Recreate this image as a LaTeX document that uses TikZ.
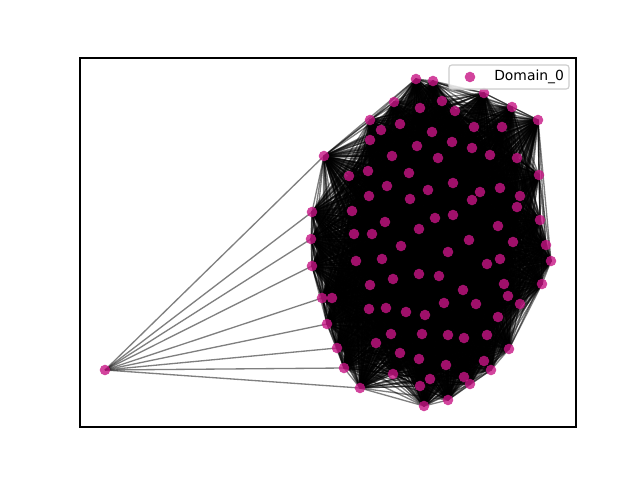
\documentclass[tikz,border=0pt]{standalone}
\usepackage{fontspec}
\setmainfont{DejaVu Sans}
\pgfdeclarelayer{edges}
\pgfsetlayers{edges,main}
\definecolor{dotc}{RGB}{199,21,133}
\begin{document}
\begin{tikzpicture}[x=0.72pt,y=-0.72pt,
  dot/.style={circle,fill=dotc,fill opacity=0.8,inner sep=0pt,minimum size=7.6pt,draw=none},
  edge/.style={draw=black,opacity=0.5,line width=0.95pt}]
\useasboundingbox (0,0) rectangle (640,480);
\foreach \i/\x/\y in {1/416/79,2/433/81,3/484/93,4/512/107,5/538/120,6/394/102,7/442/101,8/420/108,9/455/111,10/370/120,
11/381/130,12/400/124,13/432/132,14/474/127,15/502/127,16/370/140,17/452/142,18/417/146,19/472/148,20/324/156,
21/392/156,22/438/158,23/490/155,24/517/158,25/539/175,26/349/176,27/368/171,28/409/173,29/453/183,30/387/186,
31/428/190,32/480/192,33/500/188,34/520/196,35/369/196,36/410/199,37/472/200,38/517/207,39/312/212,40/352/211,
41/435/218,42/453/215,43/385/222,44/540/220,45/498/226,46/419/229,47/354/234,48/372/234,49/311/239,50/513/242,
51/469/240,52/546/245,53/401/246,54/448/252,55/356/261,56/382/259,57/312/266,58/500/259,59/487/264,60/551/261,
61/419/274,62/393/279,63/439/276,64/542/284,65/370/285,66/504/284,67/463/290,68/508/296,69/322/298,70/332/298,
71/369/309,72/386/308,73/406/312,74/444/303,75/476/304,76/520/304,77/425/315,78/327/324,79/498/317,80/391/334,
81/422/334,82/448/335,83/464/338,84/487/335,85/509/349,86/376/343,87/337/348,88/400/353,89/419/359,90/446/365,
91/484/361,92/344/368,93/393/374,94/491/370,95/430/379,96/420/386,97/464/377,98/470/384,99/360/388,100/448/400,
101/424/406,102/105/370}
  \node[dot] (n\i) at (\x,\y) {};
\begin{pgfonlayer}{edges}
\foreach \i in {1,...,100}{
  \pgfmathtruncatemacro{\k}{\i+1}
  \foreach \j in {\k,...,101}{
    \draw[edge] (n\i.center) -- (n\j.center);
  }
}
\foreach \j in {20,39,49,57,69,78,87,92,99}
  \draw[edge] (n102.center) -- (n\j.center);
\end{pgfonlayer}
\draw[black,line width=0.8pt] (80,58) rectangle (576,427);
\draw[rounded corners=2pt,draw=black!20,fill=white,fill opacity=0.8,line width=0.8pt] (449,65) rectangle (569,89);
\node[dot] (leg) at (470,77) {};
\node[anchor=west,inner sep=0pt,font=\fontsize{10}{12}\selectfont] (legtext) at (494,77) {Domain\_0};
\end{tikzpicture}
\end{document}
